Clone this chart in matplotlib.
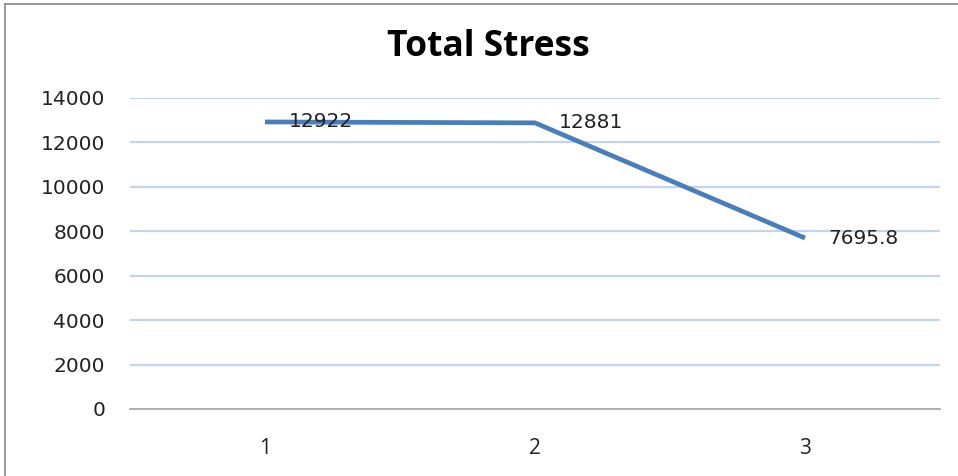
import matplotlib
matplotlib.use("Agg")
import matplotlib.pyplot as plt

categories = ["1", "2", "3"]
values = [12922, 12881, 7695.8]
value_labels = ["12922", "12881", "7695.8"]
yticks = [0, 2000, 4000, 6000, 8000, 10000, 12000, 14000]

W, H = 958, 476
fig = plt.figure(figsize=(W / 100, H / 100), dpi=100)
fig.patch.set_facecolor("white")

# plot area: x 130..940, y 98..409 (pixels from top)
ax = fig.add_axes([130 / W, 1 - 409 / H, (940 - 130) / W, (409 - 98) / H])
x = list(range(1, len(categories) + 1))
ax.plot(x, values, color="#4a7ebb", lw=3.4, solid_capstyle="butt", zorder=3)
ax.set_xlim(0.5, len(categories) + 0.5)
ax.set_ylim(0, 14000)
ax.set_yticks(yticks)
ax.set_yticklabels([str(t) for t in yticks], fontsize=14.5, family="DejaVu Sans", color="#222222")
ax.set_xticks(x)
ax.set_xticklabels(categories, fontsize=15, family="Open Sans", color="#222222")
for t in yticks[1:]:
    ax.axhline(t, color="#c2d3ee", lw=1.6, zorder=1)
for s in ["left", "right", "top"]:
    ax.spines[s].set_visible(False)
ax.spines["bottom"].set_color("#a0a0a0")
ax.spines["bottom"].set_linewidth(1.2)
ax.tick_params(axis="both", length=0)
ax.tick_params(axis="y", pad=18)
ax.tick_params(axis="x", pad=21)

for xi, v, lab in zip(x, values, value_labels):
    ax.annotate(lab, (xi, v), xytext=(17, 0), textcoords="offset points",
                ha="left", va="center", fontsize=14.5, family="DejaVu Sans",
                color="#222222", zorder=4)

fig.text(488 / W, 1 - 47 / H, "Total Stress", ha="center", va="center",
         fontsize=25.5, fontweight="bold", family="Open Sans", color="black")

# chart border (left and top visible)
fig.add_artist(plt.Line2D([5 / W, 5 / W], [0, 1 - 4 / H], transform=fig.transFigure,
                          color="#888888", lw=1.2))
fig.add_artist(plt.Line2D([5 / W, 1], [1 - 4 / H, 1 - 4 / H], transform=fig.transFigure,
                          color="#888888", lw=1.2))

fig.savefig("out.png", dpi=100)
